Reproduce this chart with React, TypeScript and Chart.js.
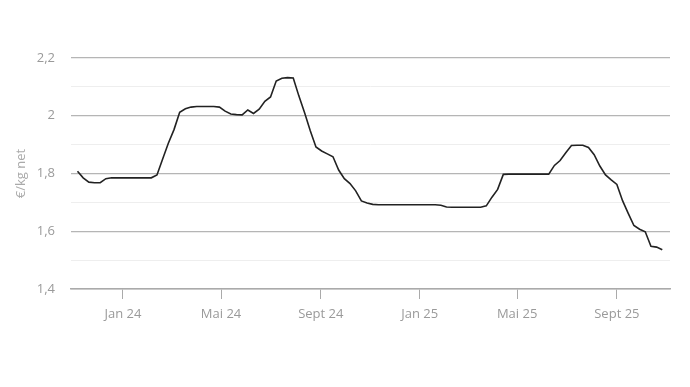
import React, { useEffect, useRef } from "react";
import { Chart, registerables } from "chart.js";

Chart.register(...registerables);

// Days counted from 1 Jan 2024; first weekly observation on 6 Nov 2023
const startDay = -56;
const weekStep = 7;

// Weekly price, €/kg net
const prices = [
  1.808, 1.785, 1.770, 1.768, 1.768, 1.782, 1.785, 1.785, 1.785, 1.785,
  1.785, 1.785, 1.785, 1.785, 1.795, 1.850, 1.905, 1.952, 2.012, 2.024,
  2.030, 2.032, 2.032, 2.032, 2.032, 2.030, 2.016, 2.006, 2.004, 2.003,
  2.020, 2.008, 2.023, 2.050, 2.065, 2.120, 2.130, 2.132, 2.131, 2.068,
  2.010, 1.948, 1.892, 1.878, 1.868, 1.858, 1.812, 1.782, 1.765, 1.740,
  1.705, 1.698, 1.693, 1.692, 1.692, 1.692, 1.692, 1.692, 1.692, 1.692,
  1.692, 1.692, 1.692, 1.692, 1.690, 1.684, 1.683, 1.683, 1.683, 1.683,
  1.683, 1.683, 1.688, 1.718, 1.745, 1.797, 1.798, 1.798, 1.798, 1.798,
  1.798, 1.798, 1.798, 1.798, 1.828, 1.845, 1.872, 1.897, 1.898, 1.898,
  1.890, 1.865, 1.826, 1.795, 1.778, 1.762, 1.706, 1.662, 1.620, 1.607,
  1.598, 1.548, 1.545, 1.536,
];

const tickDays = [0, 121, 244, 366, 486, 609];
const tickLabels = ["Jan 24", "Mai 24", "Sept 24", "Jan 25", "Mai 25", "Sept 25"];

const xMin = -64;
const xMax = 674.5;
const yMin = 1.4;
const yMax = 2.2;
const yTitle = "€/kg net";

export default function App() {
  const ref = useRef<HTMLCanvasElement | null>(null);

  useEffect(() => {
    document.body.style.margin = "0";
    const canvas = ref.current;
    if (!canvas) return;
    Chart.defaults.font.family = "'Open Sans', 'Noto Sans', sans-serif";
    const points = prices.map((v, i) => ({ x: startDay + i * weekStep, y: v }));
    const chart = new Chart(canvas, {
      type: "line",
      data: {
        datasets: [
          {
            data: points,
            borderColor: "#222222",
            borderWidth: 1.6,
            pointRadius: 0,
            tension: 0,
            fill: false,
          },
        ],
      },
      options: {
        animation: false,
        responsive: false,
        maintainAspectRatio: false,
        layout: { padding: { top: 58, right: 20, bottom: 0, left: 0 } },
        plugins: {
          legend: { display: false },
          tooltip: { enabled: false },
        },
        scales: {
          x: {
            type: "linear",
            min: xMin,
            max: xMax,
            afterBuildTicks: (scale: any) => {
              scale.ticks = tickDays.map((v) => ({ value: v }));
            },
            afterFit: (scale: any) => {
              scale.height = 98;
            },
            ticks: {
              autoSkip: false,
              maxRotation: 0,
              padding: 7,
              color: "#9a9a9a",
              font: { size: 13 },
              callback: (v: any) => {
                const idx = tickDays.indexOf(Number(v));
                return idx >= 0 ? tickLabels[idx] : "";
              },
            },
            grid: {
              display: true,
              drawOnChartArea: false,
              drawTicks: true,
              tickLength: 10,
              color: "#aaaaaa",
              lineWidth: 1,
            },
            border: { display: true, color: "#aaaaaa", width: 1.5 },
          },
          y: {
            type: "linear",
            min: yMin,
            max: yMax,
            afterFit: (scale: any) => {
              scale.width = 71;
            },
            ticks: {
              stepSize: 0.1,
              padding: 16,
              color: "#9a9a9a",
              font: { size: 13 },
              callback: (v: any) => {
                const n = Math.round(Number(v) * 10);
                if (n % 2 !== 0) return "";
                return String(n / 10).replace(".", ",");
              },
            },
            grid: {
              drawTicks: false,
              color: (ctx: any) => {
                const n = Math.round(Number(ctx.tick?.value) * 10);
                return n % 2 === 0 ? "#b5b5b5" : "#eeeeee";
              },
              lineWidth: (ctx: any) => {
                const n = Math.round(Number(ctx.tick?.value) * 10);
                return n % 2 === 0 ? 1.2 : 1;
              },
            },
            border: { display: false },
            title: {
              display: true,
              text: yTitle,
              color: "#aaaaaa",
              font: { size: 13 },
              padding: { top: 13, bottom: 0 },
            },
          },
        },
      },
    });
    return () => chart.destroy();
  }, []);

  return (
    <div style={{ width: 690, height: 387, background: "#ffffff" }}>
      <canvas ref={ref} width={690} height={387} style={{ display: "block" }} />
    </div>
  );
}
